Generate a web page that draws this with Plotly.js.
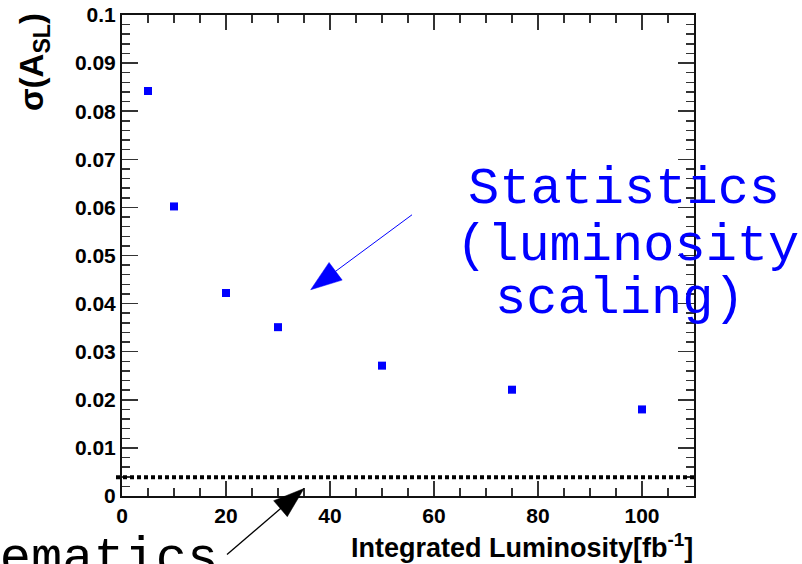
<!DOCTYPE html>
<html>
<head>
<meta charset="utf-8">
<script src="https://cdn.plot.ly/plotly-3.0.1.min.js"></script>
<style>
  html, body { margin: 0; padding: 0; background: #fff; }
  #chart { width: 802px; height: 564px; }
</style>
</head>
<body>
<div id="chart"></div>
<script>
// Expected asymmetry resolution vs. integrated luminosity
const luminosity = [5, 10, 20, 30, 50, 75, 100];          // fb^-1
const sigmaASL   = [0.0842, 0.0602, 0.0422, 0.0351, 0.0271, 0.0221, 0.0180];
const systLevel  = 0.0039;                                   // systematic floor

const xTickVals = [0, 20, 40, 60, 80, 100];
const yTickVals = [0, 0.01, 0.02, 0.03, 0.04, 0.05, 0.06, 0.07, 0.08, 0.09, 0.1];

// plot-area frame in pixels (used for placing labels and arrows)
const W = 802, H = 564;
const L = 122, R = 694, T = 15, B = 496.5;
const px = x => (x - L) / (R - L);
const py = y => (B - y) / (B - T);

// straight arrow with a slender filled head, in paper coordinates
function arrow(x0, y0, x1, y1, headLen, headWid, color, lw) {
  const dx = x1 - x0, dy = y1 - y0, d = Math.hypot(dx, dy);
  const ux = dx / d, uy = dy / d;
  const bx = x1 - ux * headLen, by = y1 - uy * headLen;
  const nx = -uy * headWid / 2, ny = ux * headWid / 2;
  const P = (x, y) => px(x).toFixed(5) + ',' + py(y).toFixed(5);
  return [
    { type: 'line', xref: 'paper', yref: 'paper',
      x0: px(x0), y0: py(y0), x1: px(bx + ux * 4), y1: py(by + uy * 4),
      line: { color: color, width: lw } },
    { type: 'path', xref: 'paper', yref: 'paper',
      path: 'M' + P(x1, y1) + ' L' + P(bx + nx, by + ny) + ' L' + P(bx - nx, by - ny) + ' Z',
      fillcolor: color, line: { color: color, width: 0.5 } }
  ];
}

const sans = 'Liberation Sans, Arial, sans-serif';
const tickFont = { family: sans, size: 21, color: '#000', weight: 'bold' };
const monoFont = (c) => ({ family: 'Liberation Mono, Courier New, monospace', size: 52, color: c });

const traces = [{
  type: 'scatter', mode: 'markers',
  x: luminosity, y: sigmaASL,
  marker: { symbol: 'square', size: 8, color: '#0000ff', line: { width: 0 } },
  cliponaxis: false, hoverinfo: 'skip'
}];

const axisCommon = {
  showgrid: false, zeroline: false,
  showline: true, linecolor: '#111', linewidth: 2, mirror: 'ticks',
  ticks: 'inside', tickcolor: '#333', tickwidth: 1.5,
  tickfont: tickFont, tickmode: 'array'
};

const layout = {
  width: W, height: H,
  margin: { l: L, r: W - R, t: T, b: H - B },
  paper_bgcolor: '#fff', plot_bgcolor: '#fff',
  showlegend: false,
  xaxis: Object.assign({}, axisCommon, {
    range: [0, 110], tickvals: xTickVals, ticktext: xTickVals.map(String),
    ticklen: 15,
    minor: { dtick: 5, tick0: 0, ticks: 'inside', ticklen: 8, tickcolor: '#333', tickwidth: 1.5 }
  }),
  yaxis: Object.assign({}, axisCommon, {
    range: [0, 0.1], tickvals: yTickVals, ticktext: yTickVals.map(String),
    ticklen: 16,
    minor: { dtick: 0.002, tick0: 0, ticks: 'inside', ticklen: 8, tickcolor: '#333', tickwidth: 1.5 }
  }),
  shapes: [
    { type: 'line', xref: 'paper', yref: 'y', x0: px(116), x1: 1, y0: systLevel, y1: systLevel,
      line: { color: '#000', width: 4, dash: '4px,3px' } }
  ].concat(
    arrow(412, 215, 310.7, 290, 31, 22, '#0000ff', 1),
    arrow(227, 555, 304, 489, 31, 21, '#000', 1.3)
  ),
  annotations: [
    // axis titles
    { xref: 'paper', yref: 'paper', x: 1.002, y: py(547), xanchor: 'right', yanchor: 'middle',
      showarrow: false, text: 'Integrated Luminosity[fb<sup>-1</sup>]',
      font: { family: sans, size: 27, color: '#000', weight: 'bold' } },
    { xref: 'paper', yref: 'paper', x: px(34), y: py(11), xanchor: 'center', yanchor: 'top',
      textangle: -90, showarrow: false, text: 'σ(A<sub>SL</sub>)',
      font: { family: sans, size: 33, color: '#000', weight: 'bold' } },
    // statistics label
    { xref: 'paper', yref: 'paper', x: px(624), y: py(189.5), xanchor: 'center', yanchor: 'middle',
      showarrow: false, text: 'Statistics', font: monoFont('#0000ff') },
    { xref: 'paper', yref: 'paper', x: px(627), y: py(246.5), xanchor: 'center', yanchor: 'middle',
      showarrow: false, text: '(luminosity', font: monoFont('#0000ff') },
    { xref: 'paper', yref: 'paper', x: px(620), y: py(299.5), xanchor: 'center', yanchor: 'middle',
      showarrow: false, text: 'scaling)', font: monoFont('#0000ff') },
    // systematics label
    { xref: 'paper', yref: 'paper', x: px(220), y: py(560.5), xanchor: 'right', yanchor: 'middle',
      showarrow: false, text: 'Systematics', font: monoFont('#000') }
  ]
};

Plotly.newPlot('chart', traces, layout, { staticPlot: true, displayModeBar: false });
</script>
</body>
</html>
